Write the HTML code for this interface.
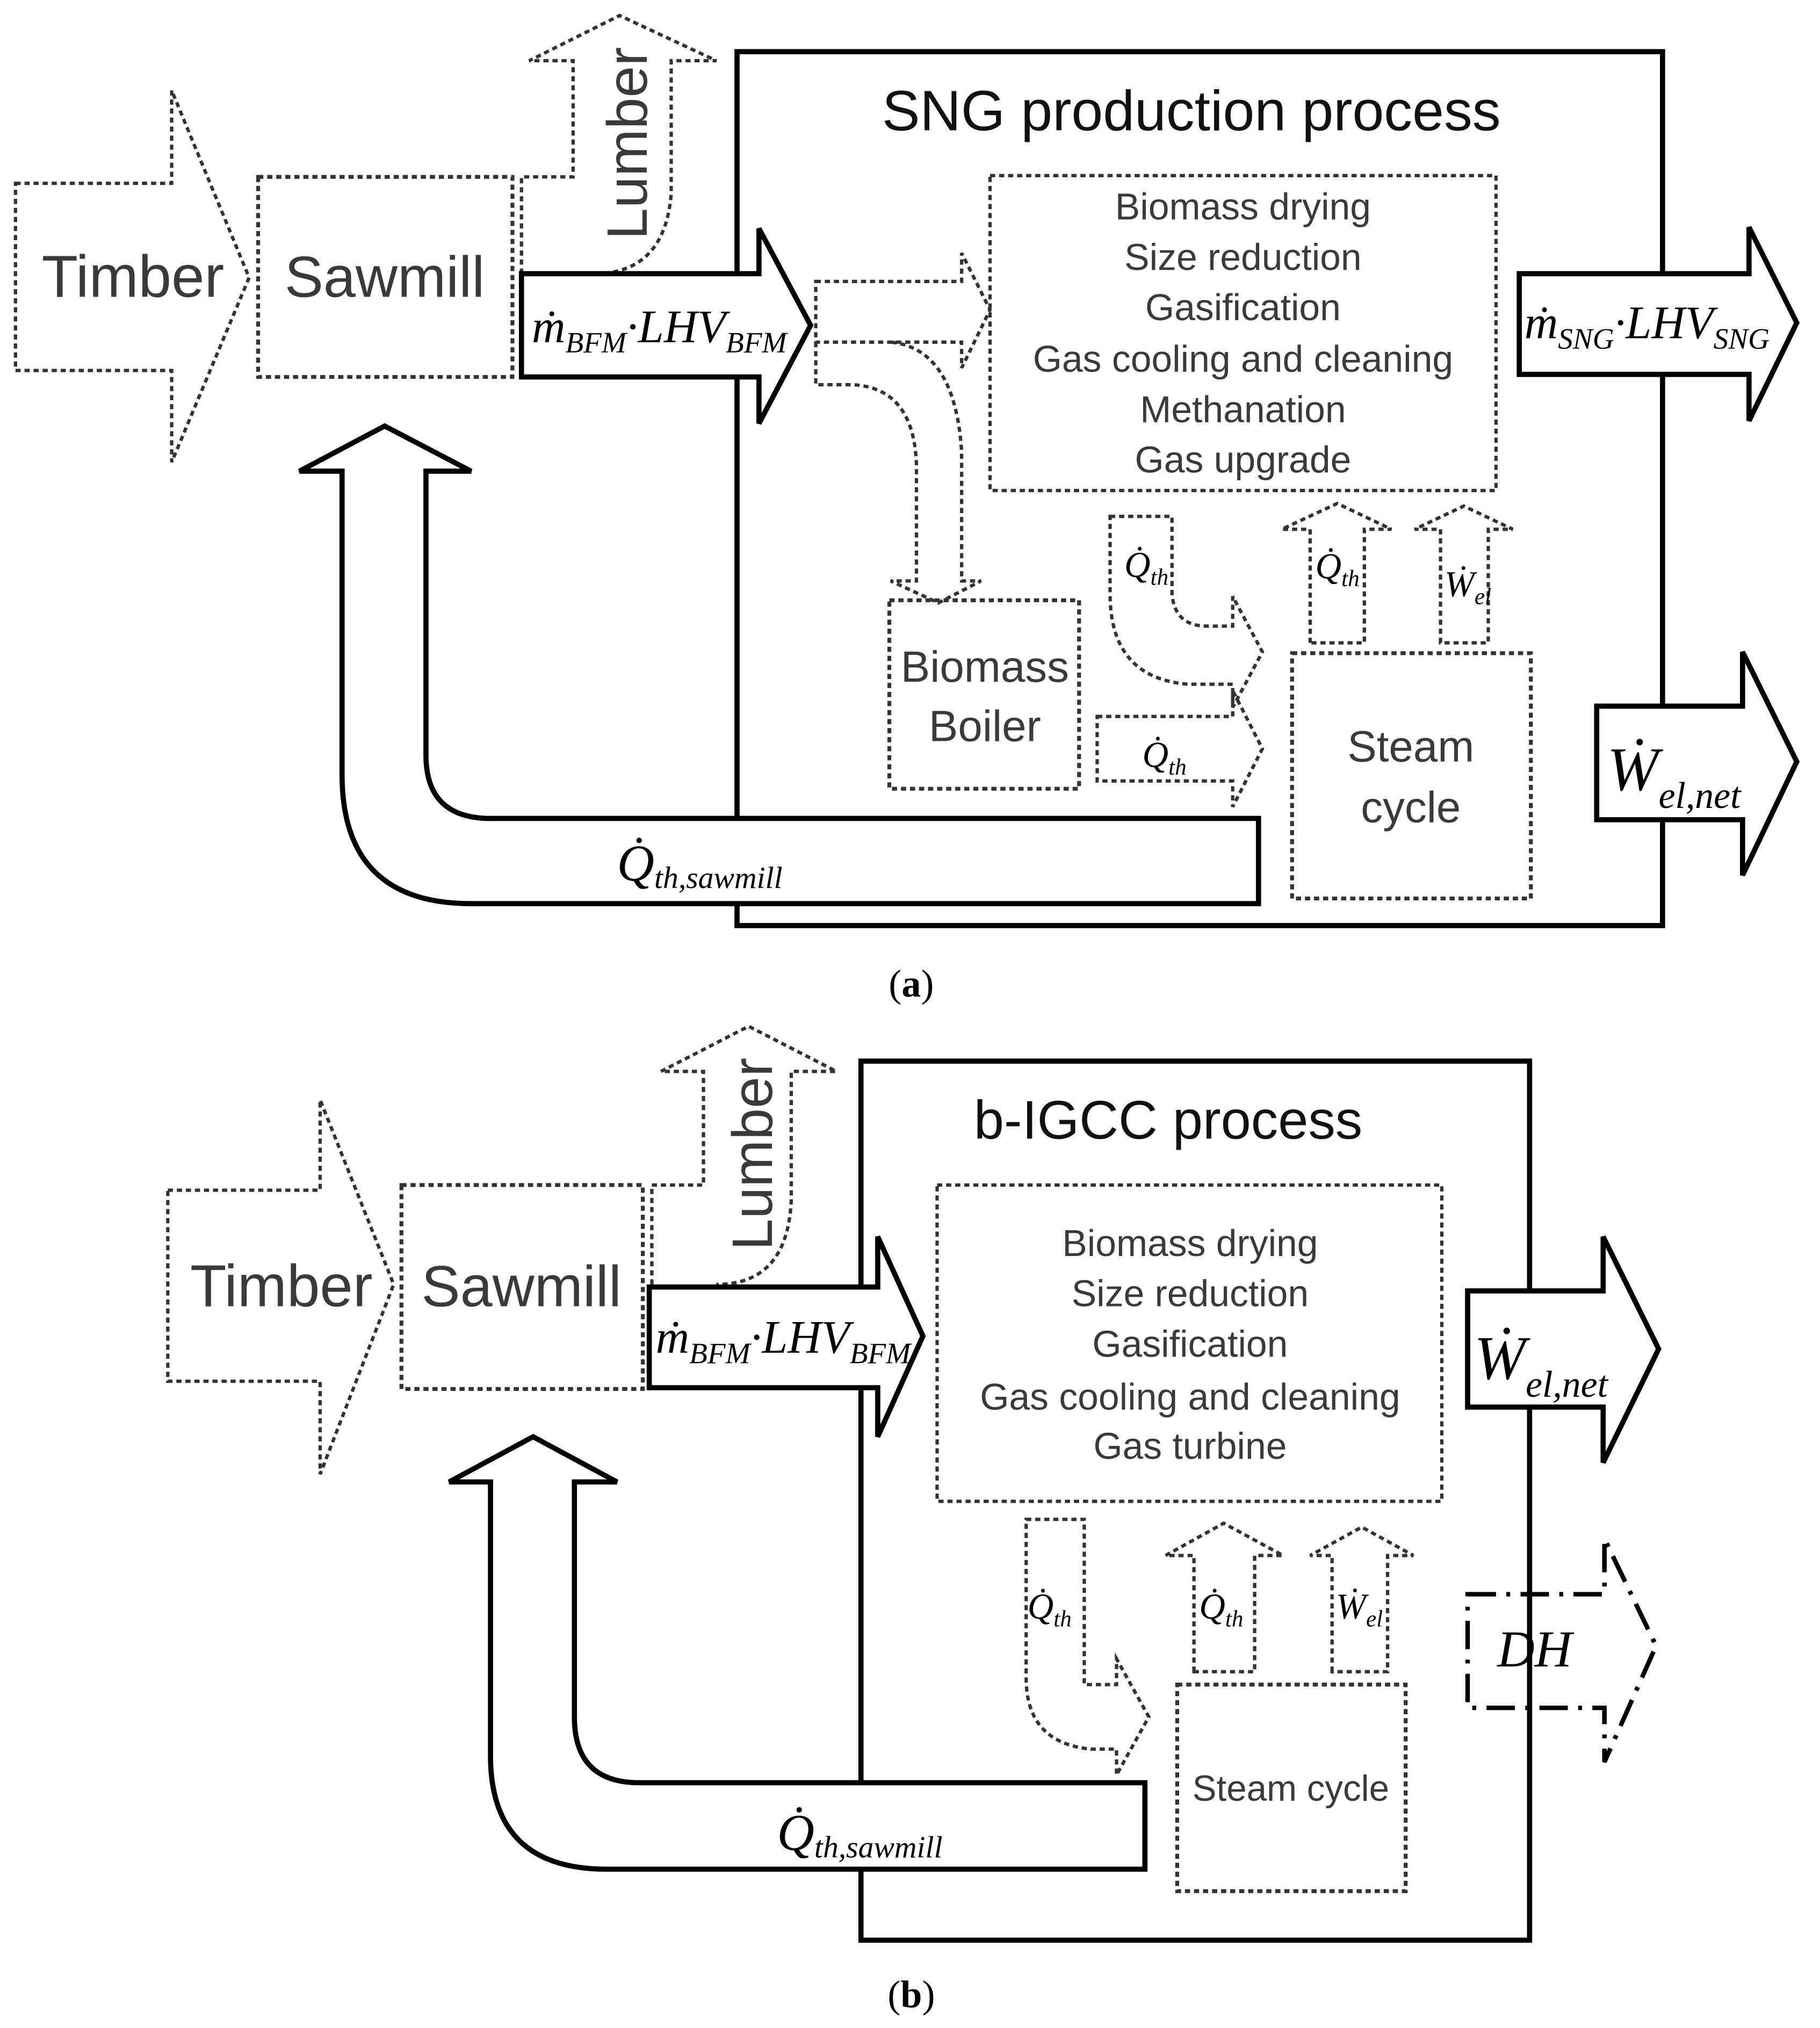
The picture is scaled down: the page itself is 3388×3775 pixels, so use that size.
<!DOCTYPE html>
<html><head><meta charset="utf-8">
<style>
html,body{margin:0;padding:0;background:#fff}
svg{display:block}
.d{fill:none;stroke:#333;stroke-width:2.6;stroke-dasharray:4 3}
.s{fill:none;stroke:#000;stroke-width:4}
.dd{fill:none;stroke:#000;stroke-width:3.5;stroke-dasharray:22 8 3 8}
.t{font-family:"Liberation Sans",sans-serif;fill:#3a3a3a;text-anchor:middle}
.m{font-family:"Liberation Serif",serif;font-style:italic;fill:#000}
</style></head>
<body>
<svg width="3388" height="3775" viewBox="0 0 1410 1571" xmlns="http://www.w3.org/2000/svg">
<rect width="1410" height="1571" fill="#fff"/>

<!-- ========== PANEL A ========== -->
<rect class="s" x="571" y="40" width="717" height="677"/>
<text class="t" x="923" y="101" font-size="44" style="fill:#111">SNG production process</text>

<polygon class="d" points="12,142 133,142 133,70 193,215 133,358 133,287 12,287"/>
<text class="t" x="103" y="230" font-size="46">Timber</text>
<rect class="d" x="200" y="137" width="197" height="155" style="stroke-width:3"/>
<text class="t" x="298" y="230" font-size="45">Sawmill</text>
<path class="d" d="M404,212 L404,137 L444,137 L444,47 L410,47 L480,12 L555,47 L520,47 L520,150 Q515,212 460,212"/>
<text class="t" font-size="44" transform="translate(501,111) rotate(-90)">Lumber</text>
<polygon class="s" style="fill:#fff" points="404,212 588,212 588,177 628,252 588,328 588,292 404,292"/>
<text class="m" x="412" y="265" font-size="36">ṁ<tspan font-size="23" dy="8">BFM</tspan><tspan dy="-8">·LHV</tspan><tspan font-size="23" dy="8">BFM</tspan></text>

<rect class="d" x="767" y="136" width="392" height="244"/>
<g class="t" font-size="29">
<text x="963" y="170">Biomass drying</text>
<text x="963" y="209">Size reduction</text>
<text x="963" y="248">Gasification</text>
<text x="963" y="288">Gas cooling and cleaning</text>
<text x="963" y="327">Methanation</text>
<text x="963" y="366">Gas upgrade</text>
</g>
<path class="d" d="M632,218 L745,218 L745,196 L767,240 L745,285 L745,265 L632,265 Z"/>
<path class="d" d="M632,265 L632,298 L660,298 Q708,300 710,360 L710,450 L690,450 L727,467 L760,450 L745,450 L745,350 Q740,270 690,265"/>
<rect class="d" x="689" y="465" width="147" height="146" style="stroke-width:3"/>
<text class="t" x="763" y="528" font-size="34">Biomass</text>
<text class="t" x="763" y="574" font-size="34">Boiler</text>
<path class="d" d="M860,400 L908,400 L908,460 Q910,485 935,485 L955,485 L955,462 L978,505 L955,548 L955,530 L920,530 Q860,525 860,460 Z"/>
<text class="m" x="871" y="447" font-size="28">Q̇<tspan font-size="18" dy="6">th</tspan></text>
<path class="d" d="M850,555 L955,555 L955,535 L978,580 L955,625 L955,605 L850,605 Z"/>
<text class="m" x="885" y="594" font-size="28">Q̇<tspan font-size="18" dy="6">th</tspan></text>
<rect class="d" x="1001" y="506" width="185" height="190" style="stroke-width:3"/>
<text class="t" x="1093" y="590" font-size="34">Steam</text>
<text class="t" x="1093" y="637" font-size="34">cycle</text>
<path class="d" d="M1015,498 L1015,410 L993,410 L1036,390 L1078,410 L1057,410 L1057,498 Z"/>
<text class="m" x="1019" y="448" font-size="28">Q̇<tspan font-size="18" dy="6">th</tspan></text>
<path class="d" d="M1116,498 L1116,410 L1096,410 L1134,392 L1172,410 L1153,410 L1153,498 Z"/>
<text class="m" x="1119" y="462" font-size="28">Ẇ<tspan font-size="18" dy="6">el</tspan></text>
<path class="s" style="fill:#fff" d="M975,634 L380,634 Q330,634 330,585 L330,365 L365,365 L298,330 L232,365 L265,365 L265,600 Q265,700 365,700 L975,700 Z"/>
<text class="m" x="478" y="682" font-size="40">Q̇<tspan font-size="24" dy="6">th,sawmill</tspan></text>
<polygon class="s" style="fill:#fff" points="1177,212 1355,212 1355,176 1392,250 1355,326 1355,290 1177,290"/>
<text class="m" x="1181" y="262" font-size="36">ṁ<tspan font-size="23" dy="8">SNG</tspan><tspan dy="-8">·LHV</tspan><tspan font-size="23" dy="8">SNG</tspan></text>
<polygon class="s" style="fill:#fff" points="1237,547 1350,547 1350,505 1392,590 1350,678 1350,635 1237,635"/>
<text class="m" x="1245" y="612" font-size="48">Ẇ<tspan font-size="29" dy="14">el,net</tspan></text>

<text x="706" y="772" font-family="Liberation Serif,serif" font-size="30" text-anchor="middle">(<tspan font-weight="bold">a</tspan>)</text>

<!-- ========== PANEL B ========== -->
<rect class="s" x="667" y="822" width="518" height="681"/>
<text class="t" x="905" y="882" font-size="42" style="fill:#111">b-IGCC process</text>

<polygon class="d" points="130,922 248,922 248,852 305,995 248,1142 248,1070 130,1070"/>
<text class="t" x="218" y="1012" font-size="46">Timber</text>
<rect class="d" x="311" y="918" width="187" height="158" style="stroke-width:3"/>
<text class="t" x="404" y="1012" font-size="45">Sawmill</text>
<path class="d" d="M505,995 L505,918 L545,918 L545,830 L512,830 L580,795 L648,830 L613,830 L613,930 Q610,995 555,995"/>
<text class="t" font-size="44" transform="translate(598,894) rotate(-90)">Lumber</text>
<polygon class="s" style="fill:#fff" points="503,997 680,997 680,958 715,1035 680,1113 680,1075 503,1075"/>
<text class="m" x="508" y="1048" font-size="36">ṁ<tspan font-size="23" dy="8">BFM</tspan><tspan dy="-8">·LHV</tspan><tspan font-size="23" dy="8">BFM</tspan></text>

<rect class="d" x="726" y="918" width="391" height="245"/>
<g class="t" font-size="29">
<text x="922" y="973">Biomass drying</text>
<text x="922" y="1012">Size reduction</text>
<text x="922" y="1051">Gasification</text>
<text x="922" y="1092">Gas cooling and cleaning</text>
<text x="922" y="1130">Gas turbine</text>
</g>
<path class="d" d="M795,1177 L840,1177 L840,1305 L865,1305 L865,1285 L890,1330 L865,1375 L865,1355 L845,1355 Q795,1350 795,1300 Z"/>
<text class="m" x="796" y="1254" font-size="28">Q̇<tspan font-size="18" dy="6">th</tspan></text>
<rect class="d" x="912" y="1305" width="177" height="160" style="stroke-width:3"/>
<text class="t" x="1000" y="1395" font-size="28">Steam cycle</text>
<path class="d" d="M925,1295 L925,1205 L903,1205 L948,1180 L994,1205 L972,1205 L972,1295 Z"/>
<text class="m" x="929" y="1254" font-size="28">Q̇<tspan font-size="18" dy="6">th</tspan></text>
<path class="d" d="M1032,1295 L1032,1205 L1015,1205 L1055,1183 L1095,1205 L1075,1205 L1075,1295 Z"/>
<text class="m" x="1035" y="1254" font-size="28">Ẇ<tspan font-size="18" dy="6">el</tspan></text>
<path class="s" style="fill:#fff" d="M887,1381 L495,1381 Q445,1381 445,1330 L445,1148 L478,1148 L413,1113 L348,1148 L380,1148 L380,1360 Q380,1448 470,1448 L887,1448 Z"/>
<text class="m" x="602" y="1433" font-size="40">Q̇<tspan font-size="24" dy="6">th,sawmill</tspan></text>
<polygon class="s" style="fill:#fff" points="1137,1000 1242,1000 1242,958 1285,1045 1242,1133 1242,1090 1137,1090"/>
<text class="m" x="1142" y="1068" font-size="48">Ẇ<tspan font-size="29" dy="14">el,net</tspan></text>
<polygon class="dd" points="1137,1235 1243,1235 1243,1192 1283,1275 1243,1365 1243,1323 1137,1323"/>
<text class="m" x="1160" y="1291" font-size="40">DH</text>

<text x="706" y="1555" font-family="Liberation Serif,serif" font-size="30" text-anchor="middle">(<tspan font-weight="bold">b</tspan>)</text>
</svg>
</body></html>
